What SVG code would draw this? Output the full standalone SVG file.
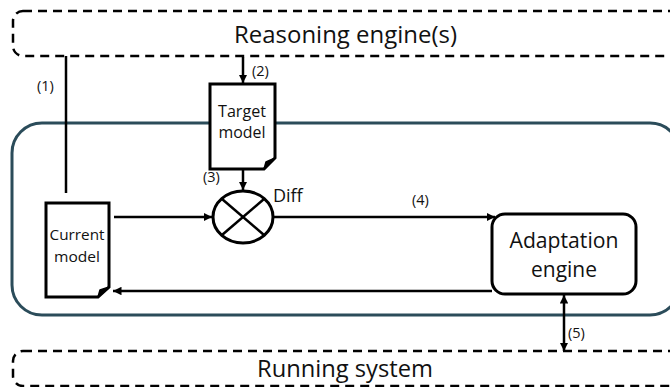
<svg xmlns="http://www.w3.org/2000/svg" width="670" height="387" viewBox="0 0 670 387">
  <style>
    .lbl { font-family: "Open Sans", "Liberation Sans", sans-serif; fill: #111; }
    .num { font-size: 14.5px; }
    .dash { fill: none; stroke: #000; stroke-width: 2.5; stroke-dasharray: 9 6; }
    .ln { fill: none; stroke: #000; stroke-width: 2.5; }
    .box { fill: #fff; stroke: #000; stroke-width: 3; }
  </style>
  <defs>
    <marker id="arr" viewBox="0 0 10 10" refX="10" refY="5" markerWidth="3.4" markerHeight="3.4" orient="auto-start-reverse" markerUnits="strokeWidth">
      <path d="M0,0 L10,5 L0,10 Z" fill="#000"/>
    </marker>
  </defs>

  <rect width="670" height="387" fill="#fff"/>

  <!-- outer layers -->
  <g id="reasoning">
    <rect class="dash" x="13" y="11" width="680" height="45" rx="10"/>
    <text class="lbl" x="234" y="43" font-size="24" textLength="223" lengthAdjust="spacingAndGlyphs">Reasoning engine(s)</text>
  </g>
  <g id="running">
    <rect class="dash" x="13" y="351" width="680" height="35" rx="10"/>
    <text class="lbl" x="257" y="377" font-size="24" textLength="176" lengthAdjust="spacingAndGlyphs">Running system</text>
  </g>

  <!-- runtime model container -->
  <g id="container">
    <rect x="12" y="123" width="668" height="192" rx="30" fill="none" stroke="#2b4c5a" stroke-width="3"/>
  </g>

  <!-- connectors -->
  <g id="connectors">
    <line class="ln" x1="66" y1="56" x2="66" y2="193"/>
    <line class="ln" x1="243" y1="57" x2="243" y2="83" marker-end="url(#arr)"/>
    <line class="ln" x1="243" y1="170" x2="243" y2="190" marker-end="url(#arr)"/>
    <line class="ln" x1="114" y1="217" x2="212" y2="217" marker-end="url(#arr)"/>
    <line class="ln" x1="273" y1="217" x2="495" y2="217" marker-end="url(#arr)"/>
    <line class="ln" x1="492" y1="291" x2="113" y2="291" marker-end="url(#arr)"/>
    <line class="ln" x1="564" y1="295" x2="564" y2="351" marker-start="url(#arr)" marker-end="url(#arr)"/>
    <text class="lbl num" x="37" y="91">(1)</text>
    <text class="lbl num" x="252" y="76">(2)</text>
    <text class="lbl num" x="203" y="182">(3)</text>
    <text class="lbl num" x="412" y="205">(4)</text>
    <text class="lbl num" x="568" y="338">(5)</text>
  </g>

  <!-- target model document -->
  <g id="target-model">
    <path class="box" d="M210,84 H275 V158 L264,169 H210 Z"/>
    <path d="M264,169 L266,162 L275,158 Z" fill="#000" stroke="#000" stroke-width="1.5" stroke-linejoin="round"/>
    <text class="lbl" x="242" y="117" font-size="16" text-anchor="middle" textLength="48" lengthAdjust="spacingAndGlyphs">Target</text>
    <text class="lbl" x="242" y="138" font-size="16" text-anchor="middle" textLength="47" lengthAdjust="spacingAndGlyphs">model</text>
  </g>

  <!-- current model document -->
  <g id="current-model">
    <path class="box" d="M46,203 H109 V287 L98,297 H46 Z"/>
    <path d="M98,297 L100,290 L109,287 Z" fill="#000" stroke="#000" stroke-width="1.5" stroke-linejoin="round"/>
    <text class="lbl" x="77" y="240" font-size="15" text-anchor="middle" textLength="55" lengthAdjust="spacingAndGlyphs">Current</text>
    <text class="lbl" x="77" y="262" font-size="15" text-anchor="middle" textLength="46" lengthAdjust="spacingAndGlyphs">model</text>
  </g>

  <!-- diff operator -->
  <g id="diff">
    <ellipse cx="243" cy="217" rx="30" ry="26" fill="#fff" stroke="#000" stroke-width="3"/>
    <line class="ln" x1="222" y1="199" x2="264" y2="235" stroke-width="3"/>
    <line class="ln" x1="264" y1="199" x2="222" y2="235" stroke-width="3"/>
    <text class="lbl" x="273" y="202" font-size="18">Diff</text>
  </g>

  <!-- adaptation engine -->
  <g id="adaptation-engine">
    <rect class="box" x="492" y="214" width="144" height="80" rx="13"/>
    <text class="lbl" x="564" y="248" font-size="21" text-anchor="middle" textLength="109" lengthAdjust="spacingAndGlyphs">Adaptation</text>
    <text class="lbl" x="564" y="277" font-size="21" text-anchor="middle" textLength="66" lengthAdjust="spacingAndGlyphs">engine</text>
  </g>
</svg>
